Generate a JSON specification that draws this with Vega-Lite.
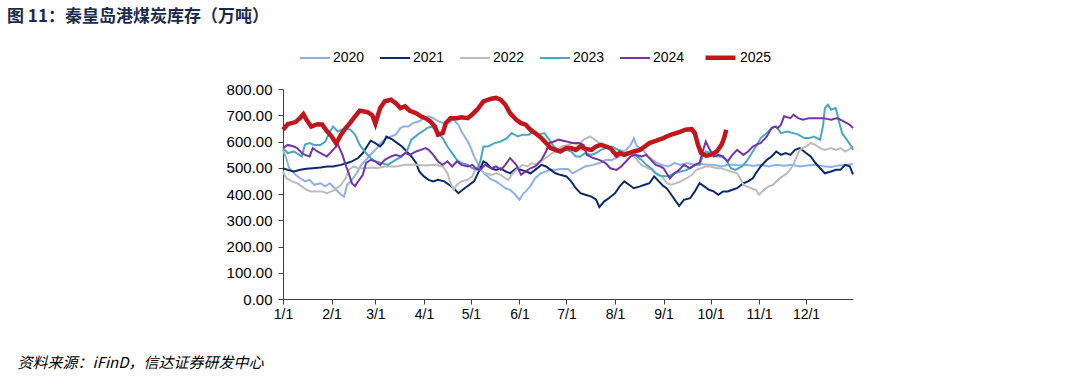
{
"$schema": "https://vega.github.io/schema/vega-lite/v6.json",
"width": 570, "height": 210,
"autosize": {"type": "none"},
"padding": {"left": 283, "top": 89, "right": 227, "bottom": 77},
"background": "white",
"config": {"view": {"stroke": null}, "font": "Liberation Sans"},
"title": {"text": "图 11：秦皇岛港煤炭库存（万吨）", "anchor": "start", "frame": "group", "orient": "top", "dx": -276, "dy": -14, "offset": 0, "fontSize": 17, "fontWeight": "bold", "font": "Noto Sans CJK SC", "color": "#1B2A4E"},
"data": {"values": [
{"year":"2020","date":"2001-01-01","value":568},{"year":"2020","date":"2001-01-03","value":537},{"year":"2020","date":"2001-01-05","value":498},{"year":"2020","date":"2001-01-09","value":473},{"year":"2020","date":"2001-01-12","value":460},{"year":"2020","date":"2001-01-15","value":448},{"year":"2020","date":"2001-01-18","value":454},{"year":"2020","date":"2001-01-21","value":435},{"year":"2020","date":"2001-01-25","value":441},{"year":"2020","date":"2001-01-28","value":429},{"year":"2020","date":"2001-01-31","value":441},{"year":"2020","date":"2001-02-03","value":422},{"year":"2020","date":"2001-02-07","value":397},{"year":"2020","date":"2001-02-09","value":390},{"year":"2020","date":"2001-02-11","value":435},{"year":"2020","date":"2001-02-14","value":454},{"year":"2020","date":"2001-02-17","value":479},{"year":"2020","date":"2001-02-20","value":511},{"year":"2020","date":"2001-02-24","value":537},{"year":"2020","date":"2001-02-27","value":556},{"year":"2020","date":"2001-03-02","value":575},{"year":"2020","date":"2001-03-04","value":594},{"year":"2020","date":"2001-03-07","value":607},{"year":"2020","date":"2001-03-11","value":619},{"year":"2020","date":"2001-03-14","value":626},{"year":"2020","date":"2001-03-17","value":651},{"year":"2020","date":"2001-03-19","value":657},{"year":"2020","date":"2001-03-22","value":657},{"year":"2020","date":"2001-03-25","value":670},{"year":"2020","date":"2001-03-29","value":677},{"year":"2020","date":"2001-04-01","value":689},{"year":"2020","date":"2001-04-04","value":696},{"year":"2020","date":"2001-04-07","value":689},{"year":"2020","date":"2001-04-10","value":677},{"year":"2020","date":"2001-04-14","value":670},{"year":"2020","date":"2001-04-17","value":677},{"year":"2020","date":"2001-04-20","value":683},{"year":"2020","date":"2001-04-23","value":664},{"year":"2020","date":"2001-04-25","value":638},{"year":"2020","date":"2001-04-29","value":600},{"year":"2020","date":"2001-05-01","value":575},{"year":"2020","date":"2001-05-03","value":543},{"year":"2020","date":"2001-05-07","value":498},{"year":"2020","date":"2001-05-10","value":475},{"year":"2020","date":"2001-05-14","value":455},{"year":"2020","date":"2001-05-17","value":448},{"year":"2020","date":"2001-05-20","value":435},{"year":"2020","date":"2001-05-23","value":422},{"year":"2020","date":"2001-05-26","value":416},{"year":"2020","date":"2001-05-29","value":400},{"year":"2020","date":"2001-06-01","value":378},{"year":"2020","date":"2001-06-03","value":398},{"year":"2020","date":"2001-06-05","value":410},{"year":"2020","date":"2001-06-08","value":430},{"year":"2020","date":"2001-06-11","value":460},{"year":"2020","date":"2001-06-15","value":480},{"year":"2020","date":"2001-06-18","value":486},{"year":"2020","date":"2001-06-21","value":492},{"year":"2020","date":"2001-06-24","value":492},{"year":"2020","date":"2001-06-27","value":495},{"year":"2020","date":"2001-07-02","value":495},{"year":"2020","date":"2001-07-05","value":479},{"year":"2020","date":"2001-07-09","value":492},{"year":"2020","date":"2001-07-13","value":505},{"year":"2020","date":"2001-07-18","value":511},{"year":"2020","date":"2001-07-22","value":518},{"year":"2020","date":"2001-07-26","value":530},{"year":"2020","date":"2001-07-30","value":530},{"year":"2020","date":"2001-08-04","value":543},{"year":"2020","date":"2001-08-08","value":568},{"year":"2020","date":"2001-08-11","value":587},{"year":"2020","date":"2001-08-13","value":612},{"year":"2020","date":"2001-08-15","value":581},{"year":"2020","date":"2001-08-19","value":568},{"year":"2020","date":"2001-08-22","value":543},{"year":"2020","date":"2001-08-25","value":530},{"year":"2020","date":"2001-08-28","value":518},{"year":"2020","date":"2001-08-31","value":511},{"year":"2020","date":"2001-09-04","value":505},{"year":"2020","date":"2001-09-08","value":518},{"year":"2020","date":"2001-09-12","value":511},{"year":"2020","date":"2001-09-16","value":518},{"year":"2020","date":"2001-09-21","value":511},{"year":"2020","date":"2001-09-25","value":514},{"year":"2020","date":"2001-09-29","value":511},{"year":"2020","date":"2001-10-03","value":511},{"year":"2020","date":"2001-10-08","value":505},{"year":"2020","date":"2001-10-12","value":511},{"year":"2020","date":"2001-10-16","value":511},{"year":"2020","date":"2001-10-20","value":509},{"year":"2020","date":"2001-10-24","value":511},{"year":"2020","date":"2001-10-28","value":507},{"year":"2020","date":"2001-11-02","value":511},{"year":"2020","date":"2001-11-07","value":505},{"year":"2020","date":"2001-11-12","value":511},{"year":"2020","date":"2001-11-17","value":508},{"year":"2020","date":"2001-11-22","value":511},{"year":"2020","date":"2001-11-27","value":505},{"year":"2020","date":"2001-12-02","value":509},{"year":"2020","date":"2001-12-07","value":511},{"year":"2020","date":"2001-12-12","value":506},{"year":"2020","date":"2001-12-17","value":503},{"year":"2020","date":"2001-12-22","value":509},{"year":"2020","date":"2001-12-27","value":511},{"year":"2020","date":"2001-12-31","value":514},
{"year":"2021","date":"2001-01-01","value":498},{"year":"2021","date":"2001-01-04","value":492},{"year":"2021","date":"2001-01-08","value":486},{"year":"2021","date":"2001-01-12","value":492},{"year":"2021","date":"2001-01-16","value":496},{"year":"2021","date":"2001-01-20","value":498},{"year":"2021","date":"2001-01-25","value":501},{"year":"2021","date":"2001-01-29","value":505},{"year":"2021","date":"2001-02-02","value":505},{"year":"2021","date":"2001-02-07","value":511},{"year":"2021","date":"2001-02-11","value":518},{"year":"2021","date":"2001-02-14","value":524},{"year":"2021","date":"2001-02-18","value":537},{"year":"2021","date":"2001-02-21","value":556},{"year":"2021","date":"2001-02-23","value":575},{"year":"2021","date":"2001-02-26","value":603},{"year":"2021","date":"2001-03-01","value":594},{"year":"2021","date":"2001-03-04","value":581},{"year":"2021","date":"2001-03-06","value":594},{"year":"2021","date":"2001-03-08","value":619},{"year":"2021","date":"2001-03-12","value":607},{"year":"2021","date":"2001-03-15","value":594},{"year":"2021","date":"2001-03-18","value":581},{"year":"2021","date":"2001-03-21","value":562},{"year":"2021","date":"2001-03-24","value":543},{"year":"2021","date":"2001-03-27","value":518},{"year":"2021","date":"2001-03-29","value":486},{"year":"2021","date":"2001-04-01","value":467},{"year":"2021","date":"2001-04-04","value":454},{"year":"2021","date":"2001-04-07","value":448},{"year":"2021","date":"2001-04-10","value":454},{"year":"2021","date":"2001-04-14","value":448},{"year":"2021","date":"2001-04-17","value":435},{"year":"2021","date":"2001-04-20","value":422},{"year":"2021","date":"2001-04-23","value":403},{"year":"2021","date":"2001-04-27","value":422},{"year":"2021","date":"2001-04-30","value":435},{"year":"2021","date":"2001-05-03","value":448},{"year":"2021","date":"2001-05-05","value":473},{"year":"2021","date":"2001-05-07","value":498},{"year":"2021","date":"2001-05-09","value":524},{"year":"2021","date":"2001-05-11","value":518},{"year":"2021","date":"2001-05-14","value":498},{"year":"2021","date":"2001-05-17","value":492},{"year":"2021","date":"2001-05-20","value":498},{"year":"2021","date":"2001-05-23","value":486},{"year":"2021","date":"2001-05-26","value":479},{"year":"2021","date":"2001-05-30","value":498},{"year":"2021","date":"2001-06-02","value":492},{"year":"2021","date":"2001-06-05","value":486},{"year":"2021","date":"2001-06-08","value":479},{"year":"2021","date":"2001-06-11","value":492},{"year":"2021","date":"2001-06-15","value":511},{"year":"2021","date":"2001-06-18","value":505},{"year":"2021","date":"2001-06-21","value":492},{"year":"2021","date":"2001-06-24","value":479},{"year":"2021","date":"2001-06-27","value":473},{"year":"2021","date":"2001-07-01","value":467},{"year":"2021","date":"2001-07-04","value":448},{"year":"2021","date":"2001-07-07","value":422},{"year":"2021","date":"2001-07-10","value":403},{"year":"2021","date":"2001-07-13","value":397},{"year":"2021","date":"2001-07-17","value":390},{"year":"2021","date":"2001-07-20","value":378},{"year":"2021","date":"2001-07-22","value":350},{"year":"2021","date":"2001-07-25","value":371},{"year":"2021","date":"2001-07-28","value":384},{"year":"2021","date":"2001-08-01","value":403},{"year":"2021","date":"2001-08-04","value":429},{"year":"2021","date":"2001-08-07","value":448},{"year":"2021","date":"2001-08-10","value":435},{"year":"2021","date":"2001-08-13","value":422},{"year":"2021","date":"2001-08-17","value":429},{"year":"2021","date":"2001-08-20","value":435},{"year":"2021","date":"2001-08-23","value":441},{"year":"2021","date":"2001-08-26","value":467},{"year":"2021","date":"2001-08-29","value":448},{"year":"2021","date":"2001-09-01","value":430},{"year":"2021","date":"2001-09-03","value":422},{"year":"2021","date":"2001-09-06","value":397},{"year":"2021","date":"2001-09-09","value":371},{"year":"2021","date":"2001-09-11","value":355},{"year":"2021","date":"2001-09-14","value":378},{"year":"2021","date":"2001-09-18","value":384},{"year":"2021","date":"2001-09-21","value":410},{"year":"2021","date":"2001-09-24","value":441},{"year":"2021","date":"2001-09-27","value":429},{"year":"2021","date":"2001-09-30","value":416},{"year":"2021","date":"2001-10-03","value":410},{"year":"2021","date":"2001-10-06","value":397},{"year":"2021","date":"2001-10-09","value":410},{"year":"2021","date":"2001-10-12","value":410},{"year":"2021","date":"2001-10-15","value":416},{"year":"2021","date":"2001-10-18","value":422},{"year":"2021","date":"2001-10-22","value":441},{"year":"2021","date":"2001-10-25","value":448},{"year":"2021","date":"2001-10-28","value":460},{"year":"2021","date":"2001-10-30","value":479},{"year":"2021","date":"2001-11-02","value":505},{"year":"2021","date":"2001-11-06","value":530},{"year":"2021","date":"2001-11-09","value":543},{"year":"2021","date":"2001-11-12","value":562},{"year":"2021","date":"2001-11-15","value":549},{"year":"2021","date":"2001-11-18","value":556},{"year":"2021","date":"2001-11-21","value":549},{"year":"2021","date":"2001-11-24","value":568},{"year":"2021","date":"2001-11-27","value":575},{"year":"2021","date":"2001-12-01","value":556},{"year":"2021","date":"2001-12-04","value":543},{"year":"2021","date":"2001-12-07","value":518},{"year":"2021","date":"2001-12-10","value":498},{"year":"2021","date":"2001-12-13","value":479},{"year":"2021","date":"2001-12-17","value":486},{"year":"2021","date":"2001-12-20","value":492},{"year":"2021","date":"2001-12-23","value":492},{"year":"2021","date":"2001-12-26","value":511},{"year":"2021","date":"2001-12-29","value":505},{"year":"2021","date":"2001-12-31","value":475},
{"year":"2022","date":"2001-01-01","value":486},{"year":"2022","date":"2001-01-03","value":460},{"year":"2022","date":"2001-01-07","value":448},{"year":"2022","date":"2001-01-10","value":441},{"year":"2022","date":"2001-01-13","value":429},{"year":"2022","date":"2001-01-16","value":416},{"year":"2022","date":"2001-01-19","value":410},{"year":"2022","date":"2001-01-23","value":410},{"year":"2022","date":"2001-01-26","value":410},{"year":"2022","date":"2001-01-29","value":403},{"year":"2022","date":"2001-02-01","value":410},{"year":"2022","date":"2001-02-03","value":416},{"year":"2022","date":"2001-02-07","value":435},{"year":"2022","date":"2001-02-10","value":460},{"year":"2022","date":"2001-02-12","value":492},{"year":"2022","date":"2001-02-15","value":505},{"year":"2022","date":"2001-02-18","value":498},{"year":"2022","date":"2001-02-23","value":498},{"year":"2022","date":"2001-02-27","value":501},{"year":"2022","date":"2001-03-02","value":498},{"year":"2022","date":"2001-03-07","value":505},{"year":"2022","date":"2001-03-14","value":505},{"year":"2022","date":"2001-03-20","value":511},{"year":"2022","date":"2001-03-27","value":511},{"year":"2022","date":"2001-04-02","value":509},{"year":"2022","date":"2001-04-08","value":511},{"year":"2022","date":"2001-04-13","value":505},{"year":"2022","date":"2001-04-16","value":479},{"year":"2022","date":"2001-04-18","value":441},{"year":"2022","date":"2001-04-20","value":416},{"year":"2022","date":"2001-04-22","value":435},{"year":"2022","date":"2001-04-25","value":448},{"year":"2022","date":"2001-04-29","value":454},{"year":"2022","date":"2001-05-02","value":467},{"year":"2022","date":"2001-05-04","value":498},{"year":"2022","date":"2001-05-07","value":492},{"year":"2022","date":"2001-05-10","value":479},{"year":"2022","date":"2001-05-14","value":473},{"year":"2022","date":"2001-05-17","value":479},{"year":"2022","date":"2001-05-20","value":473},{"year":"2022","date":"2001-05-23","value":460},{"year":"2022","date":"2001-05-25","value":454},{"year":"2022","date":"2001-05-27","value":473},{"year":"2022","date":"2001-05-30","value":492},{"year":"2022","date":"2001-06-03","value":511},{"year":"2022","date":"2001-06-06","value":505},{"year":"2022","date":"2001-06-09","value":518},{"year":"2022","date":"2001-06-12","value":511},{"year":"2022","date":"2001-06-16","value":530},{"year":"2022","date":"2001-06-19","value":543},{"year":"2022","date":"2001-06-22","value":556},{"year":"2022","date":"2001-06-25","value":562},{"year":"2022","date":"2001-06-28","value":581},{"year":"2022","date":"2001-07-02","value":587},{"year":"2022","date":"2001-07-05","value":594},{"year":"2022","date":"2001-07-09","value":587},{"year":"2022","date":"2001-07-12","value":607},{"year":"2022","date":"2001-07-16","value":619},{"year":"2022","date":"2001-07-19","value":607},{"year":"2022","date":"2001-07-22","value":594},{"year":"2022","date":"2001-07-26","value":581},{"year":"2022","date":"2001-07-30","value":575},{"year":"2022","date":"2001-08-04","value":568},{"year":"2022","date":"2001-08-08","value":562},{"year":"2022","date":"2001-08-12","value":556},{"year":"2022","date":"2001-08-15","value":530},{"year":"2022","date":"2001-08-18","value":511},{"year":"2022","date":"2001-08-22","value":498},{"year":"2022","date":"2001-08-25","value":492},{"year":"2022","date":"2001-08-28","value":473},{"year":"2022","date":"2001-08-31","value":467},{"year":"2022","date":"2001-09-03","value":441},{"year":"2022","date":"2001-09-06","value":435},{"year":"2022","date":"2001-09-09","value":441},{"year":"2022","date":"2001-09-12","value":448},{"year":"2022","date":"2001-09-16","value":460},{"year":"2022","date":"2001-09-19","value":473},{"year":"2022","date":"2001-09-22","value":492},{"year":"2022","date":"2001-09-25","value":498},{"year":"2022","date":"2001-09-28","value":505},{"year":"2022","date":"2001-10-01","value":505},{"year":"2022","date":"2001-10-05","value":498},{"year":"2022","date":"2001-10-08","value":498},{"year":"2022","date":"2001-10-11","value":492},{"year":"2022","date":"2001-10-14","value":486},{"year":"2022","date":"2001-10-18","value":479},{"year":"2022","date":"2001-10-20","value":460},{"year":"2022","date":"2001-10-22","value":435},{"year":"2022","date":"2001-10-24","value":429},{"year":"2022","date":"2001-10-27","value":422},{"year":"2022","date":"2001-10-30","value":416},{"year":"2022","date":"2001-11-01","value":397},{"year":"2022","date":"2001-11-03","value":410},{"year":"2022","date":"2001-11-07","value":429},{"year":"2022","date":"2001-11-10","value":435},{"year":"2022","date":"2001-11-13","value":454},{"year":"2022","date":"2001-11-16","value":467},{"year":"2022","date":"2001-11-19","value":479},{"year":"2022","date":"2001-11-23","value":511},{"year":"2022","date":"2001-11-25","value":543},{"year":"2022","date":"2001-11-27","value":568},{"year":"2022","date":"2001-12-01","value":581},{"year":"2022","date":"2001-12-04","value":594},{"year":"2022","date":"2001-12-07","value":587},{"year":"2022","date":"2001-12-10","value":575},{"year":"2022","date":"2001-12-13","value":568},{"year":"2022","date":"2001-12-17","value":575},{"year":"2022","date":"2001-12-20","value":568},{"year":"2022","date":"2001-12-23","value":575},{"year":"2022","date":"2001-12-26","value":562},{"year":"2022","date":"2001-12-30","value":575},{"year":"2022","date":"2001-12-31","value":581},
{"year":"2023","date":"2001-01-01","value":575},{"year":"2023","date":"2001-01-04","value":556},{"year":"2023","date":"2001-01-08","value":562},{"year":"2023","date":"2001-01-13","value":543},{"year":"2023","date":"2001-01-15","value":588},{"year":"2023","date":"2001-01-18","value":594},{"year":"2023","date":"2001-01-21","value":587},{"year":"2023","date":"2001-01-25","value":587},{"year":"2023","date":"2001-01-28","value":600},{"year":"2023","date":"2001-01-31","value":638},{"year":"2023","date":"2001-02-02","value":657},{"year":"2023","date":"2001-02-05","value":638},{"year":"2023","date":"2001-02-10","value":651},{"year":"2023","date":"2001-02-13","value":645},{"year":"2023","date":"2001-02-16","value":626},{"year":"2023","date":"2001-02-19","value":587},{"year":"2023","date":"2001-02-23","value":556},{"year":"2023","date":"2001-02-26","value":537},{"year":"2023","date":"2001-03-01","value":524},{"year":"2023","date":"2001-03-05","value":518},{"year":"2023","date":"2001-03-09","value":511},{"year":"2023","date":"2001-03-14","value":530},{"year":"2023","date":"2001-03-18","value":543},{"year":"2023","date":"2001-03-21","value":562},{"year":"2023","date":"2001-03-24","value":607},{"year":"2023","date":"2001-03-28","value":626},{"year":"2023","date":"2001-03-31","value":638},{"year":"2023","date":"2001-04-03","value":651},{"year":"2023","date":"2001-04-06","value":657},{"year":"2023","date":"2001-04-09","value":638},{"year":"2023","date":"2001-04-13","value":613},{"year":"2023","date":"2001-04-16","value":581},{"year":"2023","date":"2001-04-19","value":556},{"year":"2023","date":"2001-04-22","value":530},{"year":"2023","date":"2001-04-25","value":518},{"year":"2023","date":"2001-04-29","value":511},{"year":"2023","date":"2001-05-02","value":498},{"year":"2023","date":"2001-05-05","value":492},{"year":"2023","date":"2001-05-07","value":524},{"year":"2023","date":"2001-05-09","value":581},{"year":"2023","date":"2001-05-12","value":581},{"year":"2023","date":"2001-05-16","value":594},{"year":"2023","date":"2001-05-20","value":600},{"year":"2023","date":"2001-05-24","value":613},{"year":"2023","date":"2001-05-27","value":632},{"year":"2023","date":"2001-05-31","value":619},{"year":"2023","date":"2001-06-03","value":626},{"year":"2023","date":"2001-06-07","value":626},{"year":"2023","date":"2001-06-10","value":638},{"year":"2023","date":"2001-06-13","value":626},{"year":"2023","date":"2001-06-17","value":632},{"year":"2023","date":"2001-06-20","value":607},{"year":"2023","date":"2001-06-23","value":581},{"year":"2023","date":"2001-06-26","value":568},{"year":"2023","date":"2001-07-01","value":568},{"year":"2023","date":"2001-07-04","value":562},{"year":"2023","date":"2001-07-07","value":543},{"year":"2023","date":"2001-07-10","value":543},{"year":"2023","date":"2001-07-13","value":556},{"year":"2023","date":"2001-07-17","value":549},{"year":"2023","date":"2001-07-20","value":556},{"year":"2023","date":"2001-07-23","value":568},{"year":"2023","date":"2001-07-26","value":575},{"year":"2023","date":"2001-07-30","value":581},{"year":"2023","date":"2001-08-03","value":568},{"year":"2023","date":"2001-08-07","value":556},{"year":"2023","date":"2001-08-11","value":556},{"year":"2023","date":"2001-08-14","value":549},{"year":"2023","date":"2001-08-18","value":530},{"year":"2023","date":"2001-08-21","value":511},{"year":"2023","date":"2001-08-24","value":498},{"year":"2023","date":"2001-08-27","value":479},{"year":"2023","date":"2001-08-30","value":470},{"year":"2023","date":"2001-09-04","value":467},{"year":"2023","date":"2001-09-08","value":479},{"year":"2023","date":"2001-09-12","value":486},{"year":"2023","date":"2001-09-16","value":492},{"year":"2023","date":"2001-09-21","value":511},{"year":"2023","date":"2001-09-24","value":511},{"year":"2023","date":"2001-09-26","value":543},{"year":"2023","date":"2001-09-28","value":562},{"year":"2023","date":"2001-10-01","value":556},{"year":"2023","date":"2001-10-05","value":543},{"year":"2023","date":"2001-10-08","value":543},{"year":"2023","date":"2001-10-11","value":530},{"year":"2023","date":"2001-10-14","value":498},{"year":"2023","date":"2001-10-17","value":492},{"year":"2023","date":"2001-10-21","value":505},{"year":"2023","date":"2001-10-24","value":524},{"year":"2023","date":"2001-10-28","value":562},{"year":"2023","date":"2001-10-31","value":590},{"year":"2023","date":"2001-11-02","value":613},{"year":"2023","date":"2001-11-06","value":632},{"year":"2023","date":"2001-11-09","value":651},{"year":"2023","date":"2001-11-12","value":657},{"year":"2023","date":"2001-11-15","value":632},{"year":"2023","date":"2001-11-19","value":638},{"year":"2023","date":"2001-11-23","value":632},{"year":"2023","date":"2001-11-26","value":626},{"year":"2023","date":"2001-11-30","value":613},{"year":"2023","date":"2001-12-03","value":613},{"year":"2023","date":"2001-12-06","value":619},{"year":"2023","date":"2001-12-10","value":607},{"year":"2023","date":"2001-12-12","value":664},{"year":"2023","date":"2001-12-13","value":727},{"year":"2023","date":"2001-12-15","value":740},{"year":"2023","date":"2001-12-17","value":721},{"year":"2023","date":"2001-12-20","value":727},{"year":"2023","date":"2001-12-22","value":677},{"year":"2023","date":"2001-12-24","value":632},{"year":"2023","date":"2001-12-27","value":607},{"year":"2023","date":"2001-12-30","value":581},{"year":"2023","date":"2001-12-31","value":568},
{"year":"2024","date":"2001-01-01","value":575},{"year":"2024","date":"2001-01-04","value":587},{"year":"2024","date":"2001-01-08","value":581},{"year":"2024","date":"2001-01-10","value":575},{"year":"2024","date":"2001-01-13","value":556},{"year":"2024","date":"2001-01-15","value":549},{"year":"2024","date":"2001-01-18","value":543},{"year":"2024","date":"2001-01-20","value":575},{"year":"2024","date":"2001-01-23","value":562},{"year":"2024","date":"2001-01-27","value":549},{"year":"2024","date":"2001-01-29","value":543},{"year":"2024","date":"2001-02-01","value":562},{"year":"2024","date":"2001-02-03","value":575},{"year":"2024","date":"2001-02-05","value":590},{"year":"2024","date":"2001-02-08","value":549},{"year":"2024","date":"2001-02-10","value":510},{"year":"2024","date":"2001-02-12","value":479},{"year":"2024","date":"2001-02-14","value":441},{"year":"2024","date":"2001-02-16","value":430},{"year":"2024","date":"2001-02-18","value":448},{"year":"2024","date":"2001-02-21","value":473},{"year":"2024","date":"2001-02-23","value":518},{"year":"2024","date":"2001-02-26","value":530},{"year":"2024","date":"2001-03-01","value":524},{"year":"2024","date":"2001-03-04","value":511},{"year":"2024","date":"2001-03-07","value":530},{"year":"2024","date":"2001-03-11","value":543},{"year":"2024","date":"2001-03-14","value":549},{"year":"2024","date":"2001-03-17","value":543},{"year":"2024","date":"2001-03-20","value":556},{"year":"2024","date":"2001-03-23","value":549},{"year":"2024","date":"2001-03-27","value":562},{"year":"2024","date":"2001-03-30","value":568},{"year":"2024","date":"2001-04-02","value":575},{"year":"2024","date":"2001-04-04","value":568},{"year":"2024","date":"2001-04-07","value":549},{"year":"2024","date":"2001-04-10","value":524},{"year":"2024","date":"2001-04-13","value":511},{"year":"2024","date":"2001-04-16","value":524},{"year":"2024","date":"2001-04-19","value":505},{"year":"2024","date":"2001-04-22","value":524},{"year":"2024","date":"2001-04-25","value":511},{"year":"2024","date":"2001-04-29","value":505},{"year":"2024","date":"2001-05-02","value":511},{"year":"2024","date":"2001-05-04","value":498},{"year":"2024","date":"2001-05-07","value":492},{"year":"2024","date":"2001-05-10","value":511},{"year":"2024","date":"2001-05-14","value":498},{"year":"2024","date":"2001-05-17","value":505},{"year":"2024","date":"2001-05-20","value":492},{"year":"2024","date":"2001-05-23","value":511},{"year":"2024","date":"2001-05-26","value":537},{"year":"2024","date":"2001-05-30","value":511},{"year":"2024","date":"2001-06-02","value":473},{"year":"2024","date":"2001-06-05","value":486},{"year":"2024","date":"2001-06-08","value":498},{"year":"2024","date":"2001-06-11","value":505},{"year":"2024","date":"2001-06-15","value":530},{"year":"2024","date":"2001-06-18","value":562},{"year":"2024","date":"2001-06-20","value":594},{"year":"2024","date":"2001-06-23","value":600},{"year":"2024","date":"2001-06-26","value":607},{"year":"2024","date":"2001-07-01","value":600},{"year":"2024","date":"2001-07-05","value":594},{"year":"2024","date":"2001-07-09","value":594},{"year":"2024","date":"2001-07-12","value":587},{"year":"2024","date":"2001-07-14","value":549},{"year":"2024","date":"2001-07-18","value":537},{"year":"2024","date":"2001-07-22","value":530},{"year":"2024","date":"2001-07-26","value":518},{"year":"2024","date":"2001-07-29","value":498},{"year":"2024","date":"2001-08-02","value":492},{"year":"2024","date":"2001-08-05","value":505},{"year":"2024","date":"2001-08-08","value":524},{"year":"2024","date":"2001-08-11","value":543},{"year":"2024","date":"2001-08-14","value":549},{"year":"2024","date":"2001-08-18","value":543},{"year":"2024","date":"2001-08-21","value":549},{"year":"2024","date":"2001-08-24","value":530},{"year":"2024","date":"2001-08-27","value":511},{"year":"2024","date":"2001-08-30","value":505},{"year":"2024","date":"2001-09-01","value":498},{"year":"2024","date":"2001-09-03","value":479},{"year":"2024","date":"2001-09-05","value":460},{"year":"2024","date":"2001-09-08","value":479},{"year":"2024","date":"2001-09-11","value":492},{"year":"2024","date":"2001-09-14","value":511},{"year":"2024","date":"2001-09-18","value":498},{"year":"2024","date":"2001-09-21","value":511},{"year":"2024","date":"2001-09-24","value":518},{"year":"2024","date":"2001-09-26","value":562},{"year":"2024","date":"2001-09-28","value":600},{"year":"2024","date":"2001-09-30","value":575},{"year":"2024","date":"2001-10-03","value":543},{"year":"2024","date":"2001-10-06","value":549},{"year":"2024","date":"2001-10-09","value":543},{"year":"2024","date":"2001-10-12","value":524},{"year":"2024","date":"2001-10-15","value":549},{"year":"2024","date":"2001-10-18","value":568},{"year":"2024","date":"2001-10-22","value":549},{"year":"2024","date":"2001-10-25","value":562},{"year":"2024","date":"2001-10-28","value":581},{"year":"2024","date":"2001-10-31","value":590},{"year":"2024","date":"2001-11-02","value":594},{"year":"2024","date":"2001-11-06","value":619},{"year":"2024","date":"2001-11-09","value":651},{"year":"2024","date":"2001-11-11","value":657},{"year":"2024","date":"2001-11-13","value":651},{"year":"2024","date":"2001-11-15","value":664},{"year":"2024","date":"2001-11-17","value":696},{"year":"2024","date":"2001-11-21","value":689},{"year":"2024","date":"2001-11-23","value":702},{"year":"2024","date":"2001-11-26","value":689},{"year":"2024","date":"2001-11-29","value":683},{"year":"2024","date":"2001-12-03","value":689},{"year":"2024","date":"2001-12-07","value":689},{"year":"2024","date":"2001-12-12","value":689},{"year":"2024","date":"2001-12-17","value":683},{"year":"2024","date":"2001-12-21","value":689},{"year":"2024","date":"2001-12-25","value":677},{"year":"2024","date":"2001-12-29","value":664},{"year":"2024","date":"2001-12-31","value":651},
{"year":"2025","date":"2001-01-01","value":645},{"year":"2025","date":"2001-01-04","value":666},{"year":"2025","date":"2001-01-09","value":674},{"year":"2025","date":"2001-01-12","value":690},{"year":"2025","date":"2001-01-14","value":704},{"year":"2025","date":"2001-01-16","value":683},{"year":"2025","date":"2001-01-19","value":657},{"year":"2025","date":"2001-01-23","value":666},{"year":"2025","date":"2001-01-26","value":665},{"year":"2025","date":"2001-01-29","value":640},{"year":"2025","date":"2001-02-01","value":620},{"year":"2025","date":"2001-02-04","value":592},{"year":"2025","date":"2001-02-07","value":626},{"year":"2025","date":"2001-02-10","value":651},{"year":"2025","date":"2001-02-13","value":672},{"year":"2025","date":"2001-02-16","value":696},{"year":"2025","date":"2001-02-19","value":717},{"year":"2025","date":"2001-02-24","value":712},{"year":"2025","date":"2001-02-27","value":700},{"year":"2025","date":"2001-03-01","value":668},{"year":"2025","date":"2001-03-04","value":727},{"year":"2025","date":"2001-03-07","value":753},{"year":"2025","date":"2001-03-11","value":759},{"year":"2025","date":"2001-03-14","value":746},{"year":"2025","date":"2001-03-17","value":727},{"year":"2025","date":"2001-03-20","value":734},{"year":"2025","date":"2001-03-23","value":717},{"year":"2025","date":"2001-03-27","value":708},{"year":"2025","date":"2001-03-30","value":696},{"year":"2025","date":"2001-04-02","value":689},{"year":"2025","date":"2001-04-05","value":677},{"year":"2025","date":"2001-04-08","value":657},{"year":"2025","date":"2001-04-10","value":626},{"year":"2025","date":"2001-04-13","value":632},{"year":"2025","date":"2001-04-15","value":670},{"year":"2025","date":"2001-04-18","value":689},{"year":"2025","date":"2001-04-22","value":689},{"year":"2025","date":"2001-04-25","value":692},{"year":"2025","date":"2001-04-29","value":689},{"year":"2025","date":"2001-05-02","value":704},{"year":"2025","date":"2001-05-05","value":721},{"year":"2025","date":"2001-05-09","value":753},{"year":"2025","date":"2001-05-14","value":763},{"year":"2025","date":"2001-05-17","value":766},{"year":"2025","date":"2001-05-20","value":759},{"year":"2025","date":"2001-05-23","value":740},{"year":"2025","date":"2001-05-26","value":708},{"year":"2025","date":"2001-05-30","value":683},{"year":"2025","date":"2001-06-02","value":670},{"year":"2025","date":"2001-06-05","value":664},{"year":"2025","date":"2001-06-08","value":645},{"year":"2025","date":"2001-06-11","value":632},{"year":"2025","date":"2001-06-15","value":613},{"year":"2025","date":"2001-06-18","value":594},{"year":"2025","date":"2001-06-21","value":575},{"year":"2025","date":"2001-06-24","value":568},{"year":"2025","date":"2001-06-27","value":562},{"year":"2025","date":"2001-07-01","value":575},{"year":"2025","date":"2001-07-04","value":575},{"year":"2025","date":"2001-07-07","value":568},{"year":"2025","date":"2001-07-10","value":581},{"year":"2025","date":"2001-07-13","value":572},{"year":"2025","date":"2001-07-17","value":568},{"year":"2025","date":"2001-07-20","value":581},{"year":"2025","date":"2001-07-23","value":587},{"year":"2025","date":"2001-07-26","value":581},{"year":"2025","date":"2001-07-29","value":575},{"year":"2025","date":"2001-08-02","value":547},{"year":"2025","date":"2001-08-04","value":556},{"year":"2025","date":"2001-08-07","value":549},{"year":"2025","date":"2001-08-10","value":556},{"year":"2025","date":"2001-08-13","value":562},{"year":"2025","date":"2001-08-17","value":568},{"year":"2025","date":"2001-08-20","value":581},{"year":"2025","date":"2001-08-23","value":594},{"year":"2025","date":"2001-08-26","value":600},{"year":"2025","date":"2001-08-29","value":607},{"year":"2025","date":"2001-09-01","value":613},{"year":"2025","date":"2001-09-03","value":619},{"year":"2025","date":"2001-09-06","value":626},{"year":"2025","date":"2001-09-09","value":632},{"year":"2025","date":"2001-09-12","value":638},{"year":"2025","date":"2001-09-15","value":645},{"year":"2025","date":"2001-09-19","value":647},{"year":"2025","date":"2001-09-21","value":632},{"year":"2025","date":"2001-09-23","value":587},{"year":"2025","date":"2001-09-25","value":556},{"year":"2025","date":"2001-09-28","value":546},{"year":"2025","date":"2001-10-01","value":549},{"year":"2025","date":"2001-10-05","value":562},{"year":"2025","date":"2001-10-08","value":587},{"year":"2025","date":"2001-10-10","value":619},{"year":"2025","date":"2001-10-11","value":645}
]},
"mark": {"type": "line", "interpolate": "linear"},
"encoding": {
 "x": {"field": "date", "type": "temporal",
   "scale": {"type": "utc", "domain": [{"year":2001,"month":1,"date":1,"utc":true},{"year":2001,"month":12,"date":31,"utc":true}], "nice": false},
   "axis": {"values": [{"year":2001,"month":1,"date":1,"utc":true},{"year":2001,"month":2,"date":1,"utc":true},{"year":2001,"month":3,"date":1,"utc":true},{"year":2001,"month":4,"date":1,"utc":true},{"year":2001,"month":5,"date":1,"utc":true},{"year":2001,"month":6,"date":1,"utc":true},{"year":2001,"month":7,"date":1,"utc":true},{"year":2001,"month":8,"date":1,"utc":true},{"year":2001,"month":9,"date":1,"utc":true},{"year":2001,"month":10,"date":1,"utc":true},{"year":2001,"month":11,"date":1,"utc":true},{"year":2001,"month":12,"date":1,"utc":true}],
     "format": "%-m/%-d", "grid": false, "labelFontSize": 14, "labelFont": "Liberation Sans", "labelColor": "#000000", "labelPadding": 3, "labelFlush": false, "labelOverlap": false,
     "tickSize": 5, "tickColor": "#404040", "domainColor": "#404040",
     "title": "资料来源：iFinD，信达证券研发中心", "titleX": -266, "titleY": 63, "titleAlign": "left", "titleAnchor": "start", "titleBaseline": "middle", "titleFont": "Noto Sans CJK SC", "titleFontStyle": "italic", "titleFontWeight": "normal", "titleFontSize": 15, "titleColor": "#000000"}},
 "y": {"field": "value", "type": "quantitative", "scale": {"domain": [0, 800], "nice": false},
   "axis": {"values": [0,100,200,300,400,500,600,700,800], "format": ".2f", "grid": false, "title": null, "labelFontSize": 15, "labelFont": "Liberation Sans", "labelColor": "#000000", "labelPadding": 6, "tickSize": 5, "tickColor": "#404040", "domainColor": "#404040"}},
 "color": {"field": "year", "type": "nominal",
   "scale": {"domain": ["2020","2021","2022","2023","2024","2025"], "range": ["#8FB0E6","#0B2A6B","#BCBCBC","#4BA6C4","#7534A8","#C0161C"]},
   "legend": {"orient": "none", "legendX": 16, "legendY": -49, "direction": "horizontal", "title": null, "symbolType": "stroke", "symbolSize": 900, "labelFontSize": 14, "labelFont": "Liberation Sans", "labelColor": "#000000", "labelOffset": 2, "columnPadding": 11}},
 "strokeWidth": {"field": "year", "type": "nominal",
   "scale": {"type": "ordinal", "domain": ["2020","2021","2022","2023","2024","2025"], "range": [2,2,2,2,2,4.5]},
   "legend": {"orient": "none", "legendX": 16, "legendY": -49, "direction": "horizontal", "title": null, "symbolType": "stroke", "symbolSize": 900, "labelFontSize": 14, "labelFont": "Liberation Sans", "labelColor": "#000000", "labelOffset": 2, "columnPadding": 11}}
}
}
